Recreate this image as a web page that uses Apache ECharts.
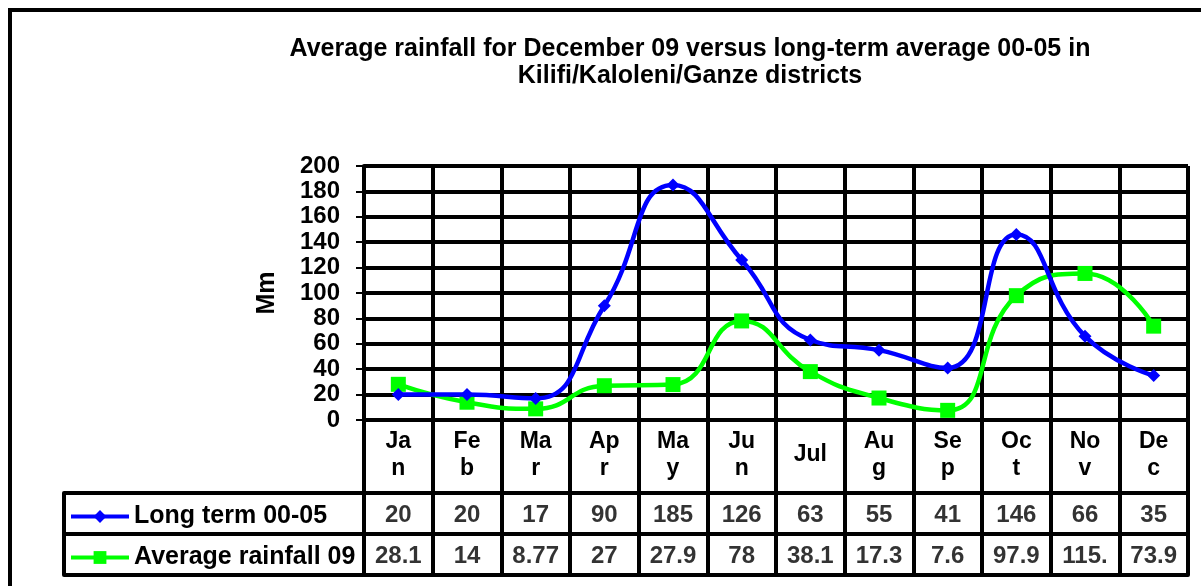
<!DOCTYPE html>
<html>
<head>
<meta charset="utf-8">
<script src="https://cdn.jsdelivr.net/npm/echarts@6/dist/echarts.min.js"></script>
<style>
html,body{margin:0;padding:0;background:#fff;}
#chart{width:1201px;height:586px;}
</style>
</head>
<body>
<div id="chart"></div>
<script>
const months = ['Jan','Feb','Mar','Apr','May','Jun','Jul','Aug','Sep','Oct','Nov','Dec'];
const tickLabels = ['Ja\nn','Fe\nb','Ma\nr','Ap\nr','Ma\ny','Ju\nn','Jul','Au\ng','Se\np','Oc\nt','No\nv','De\nc'];
const longTerm = [20,20,17,90,185,126,63,55,41,146,66,35];
const avg09 = [28.1,14,8.77,27,27.9,78,38.1,17.3,7.6,97.9,115.4,73.9];
const seriesNames = ['Long term 00-05','Average rainfall 09'];
const yTicks = {min:0, max:200, interval:20};

const FONT = 'Liberation Sans, Arial, sans-serif';
const BLACK = '#000';

const chart = echarts.init(document.getElementById('chart'), null, {renderer:'canvas'});

function cellData(values,row){
  return values.map((v,i)=>[i,row,v]);
}
const cellLabel = {
  show:true, position:'inside', offset:[0,2], color:BLACK, fontFamily:FONT, fontWeight:'bold', fontSize:24,
  formatter:p=>String(p.value[2]).slice(0,4)
};

const option = {
  backgroundColor:'#fff',
  animation:false,
  title:{
    text:'Average rainfall for December 09 versus long-term average 00-05 in\nKilifi/Kaloleni/Ganze districts',
    left:685, top:31, textAlign:'center',
    textStyle:{fontFamily:FONT, fontWeight:'bold', fontSize:25, lineHeight:27, color:BLACK}
  },
  graphic:[{
    type:'rect', z:-1, silent:true,
    shape:{x:10,y:10,width:1210,height:620},
    style:{fill:null, stroke:BLACK, lineWidth:4}
  }],
  legend:{
    data:seriesNames,
    orient:'vertical', left:64, top:491, itemGap:0,
    itemWidth:58, itemHeight:16,
    lineStyle:{width:4},
    textStyle:{fontFamily:FONT, fontWeight:'bold', fontSize:25, lineHeight:41, color:BLACK},
    selectedMode:false
  },
  grid:[
    {left:364, right:13, top:166, height:254},
    {left:364, right:13, top:493, height:82},
    {left:64, width:300, top:493, height:82}
  ],
  xAxis:[
    {gridIndex:0, type:'category', data:tickLabels, boundaryGap:true,
     axisLine:{show:true, lineStyle:{color:BLACK, width:4}},
     axisTick:{show:true, length:73, lineStyle:{color:BLACK, width:4}},
     splitLine:{show:true, lineStyle:{color:BLACK, width:4}},
     axisLabel:{color:BLACK, fontFamily:FONT, fontWeight:'bold', fontSize:23, lineHeight:27, margin:35, verticalAlign:'middle', interval:0}
    },
    {gridIndex:1, type:'category', data:months, boundaryGap:true,
     axisLine:{show:true, lineStyle:{color:BLACK, width:4}},
     axisTick:{show:false}, axisLabel:{show:false},
     splitLine:{show:true, lineStyle:{color:BLACK, width:4}}
    },
    {gridIndex:2, type:'value', show:true,
     axisLine:{show:false}, axisTick:{show:false}, axisLabel:{show:false}, splitLine:{show:false}
    }
  ],
  yAxis:[
    {gridIndex:0, type:'value', min:yTicks.min, max:yTicks.max, interval:yTicks.interval,
     name:'Mm', nameLocation:'middle', nameGap:84, nameRotate:90,
     nameTextStyle:{color:BLACK, fontFamily:FONT, fontWeight:'bold', fontSize:25},
     axisLine:{show:true, lineStyle:{color:BLACK, width:4}},
     axisTick:{show:true, length:8, lineStyle:{color:BLACK, width:2}},
     splitLine:{show:true, lineStyle:{color:BLACK, width:4}},
     axisLabel:{color:BLACK, fontFamily:FONT, fontWeight:'bold', fontSize:24, margin:24}
    },
    {gridIndex:1, type:'category', data:seriesNames, inverse:true, boundaryGap:true,
     axisLine:{show:false}, axisTick:{show:false}, axisLabel:{show:false},
     splitLine:{show:true, lineStyle:{color:BLACK, width:4}}
    },
    {gridIndex:2, type:'category', data:seriesNames, inverse:true, boundaryGap:true,
     axisLine:{show:true, lineStyle:{color:BLACK, width:4}}, axisTick:{show:false}, axisLabel:{show:false},
     splitLine:{show:true, lineStyle:{color:BLACK, width:4}}
    }
  ],
  series:[
    {name:seriesNames[0], type:'line', xAxisIndex:0, yAxisIndex:0, data:longTerm,
     smooth:0.5, symbol:'diamond', symbolSize:13, showAllSymbol:true,
     lineStyle:{color:'#0000FF', width:4.5}, itemStyle:{color:'#0000FF'}, z:5},
    {name:seriesNames[1], type:'line', xAxisIndex:0, yAxisIndex:0, data:avg09,
     smooth:0.5, symbol:'rect', symbolSize:15, showAllSymbol:true,
     lineStyle:{color:'#00FF00', width:4.5}, itemStyle:{color:'#00FF00'}, z:4},
    {name:'table-lt', type:'scatter', xAxisIndex:1, yAxisIndex:1, data:cellData(longTerm,0),
     symbolSize:1, itemStyle:{color:'rgba(0,0,0,0)'}, label:cellLabel, silent:true},
    {name:'table-09', type:'scatter', xAxisIndex:1, yAxisIndex:1, data:cellData(avg09,1),
     symbolSize:1, itemStyle:{color:'rgba(0,0,0,0)'}, label:cellLabel, silent:true}
  ]
};
chart.setOption(option);
</script>
</body>
</html>
